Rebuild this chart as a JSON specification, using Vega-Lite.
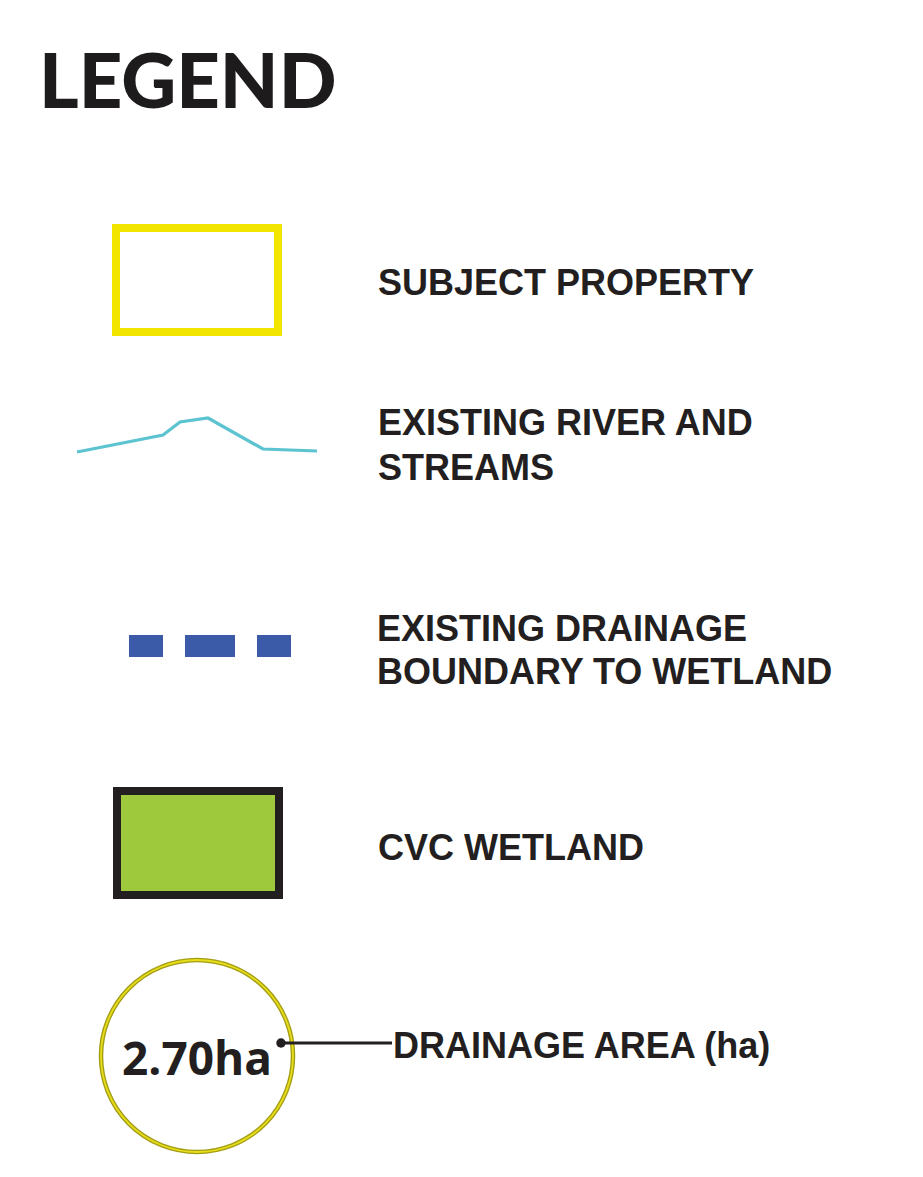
{
  "$schema": "https://vega.github.io/schema/vega-lite/v6.json",
  "width": 923,
  "height": 1177,
  "padding": 0,
  "autosize": {"type": "none"},
  "background": "#ffffff",
  "config": {"view": {"stroke": null}},
  "datasets": {
    "frames": [
      {"item": "subject", "x1": 116, "x2": 278, "y1": 228, "y2": 332},
      {"item": "wetland", "x1": 117, "x2": 279, "y1": 791, "y2": 895}
    ],
    "dashes": [
      {"x1": 129, "x2": 163, "y1": 635, "y2": 657},
      {"x1": 185, "x2": 235, "y1": 635, "y2": 657},
      {"x1": 257, "x2": 291, "y1": 635, "y2": 657}
    ],
    "river": [
      {"i": 1, "x": 77, "y": 452},
      {"i": 2, "x": 163, "y": 435},
      {"i": 3, "x": 180, "y": 422},
      {"i": 4, "x": 208, "y": 418},
      {"i": 5, "x": 263, "y": 449},
      {"i": 6, "x": 317, "y": 451}
    ],
    "area": [{"x": 197, "y": 1056, "label": "2.70ha", "ly": 1075}],
    "leader": [{"x1": 281, "x2": 392, "y": 1043}],
    "labels": [
      {"text": "SUBJECT PROPERTY", "x": 378, "y": 295},
      {"text": "EXISTING RIVER AND", "x": 378, "y": 435},
      {"text": "STREAMS", "x": 378, "y": 480},
      {"text": "EXISTING DRAINAGE", "x": 377, "y": 641},
      {"text": "BOUNDARY TO WETLAND", "x": 377, "y": 684},
      {"text": "CVC WETLAND", "x": 378, "y": 860},
      {"text": "DRAINAGE AREA (ha)", "x": 393, "y": 1058}
    ],
    "title": [{"text": "LEGEND", "x": 39, "y": 108}]
  },
  "layer": [
    {
      "data": {"name": "frames"},
      "transform": [{"filter": "datum.item === 'subject'"}],
      "mark": {"type": "rect", "fillOpacity": 0, "stroke": "#F2E600", "strokeWidth": 8},
      "encoding": {
        "x": {"field": "x1", "type": "quantitative", "scale": {"domain": [0, 923], "nice": false, "zero": false}, "axis": null},
        "x2": {"field": "x2"},
        "y": {"field": "y1", "type": "quantitative", "scale": {"domain": [0, 1177], "nice": false, "zero": false, "reverse": true}, "axis": null},
        "y2": {"field": "y2"}
      }
    },
    {
      "data": {"name": "frames"},
      "transform": [{"filter": "datum.item === 'wetland'"}],
      "mark": {"type": "rect", "fill": "#9FC93C", "stroke": "#231F20", "strokeWidth": 8},
      "encoding": {
        "x": {"field": "x1", "type": "quantitative", "axis": null},
        "x2": {"field": "x2"},
        "y": {"field": "y1", "type": "quantitative", "axis": null},
        "y2": {"field": "y2"}
      }
    },
    {
      "data": {"name": "dashes"},
      "mark": {"type": "rect", "fill": "#3B5BA9"},
      "encoding": {
        "x": {"field": "x1", "type": "quantitative", "axis": null},
        "x2": {"field": "x2"},
        "y": {"field": "y1", "type": "quantitative", "axis": null},
        "y2": {"field": "y2"}
      }
    },
    {
      "data": {"name": "river"},
      "mark": {"type": "line", "color": "#5CC3D0", "strokeWidth": 3.2},
      "encoding": {
        "x": {"field": "x", "type": "quantitative", "axis": null},
        "y": {"field": "y", "type": "quantitative", "axis": null},
        "order": {"field": "i"}
      }
    },
    {
      "data": {"name": "area"},
      "mark": {"type": "point", "shape": "circle", "size": 36864, "filled": false, "stroke": "#A39D14", "strokeWidth": 4.5, "opacity": 1},
      "encoding": {
        "x": {"field": "x", "type": "quantitative", "axis": null},
        "y": {"field": "y", "type": "quantitative", "axis": null}
      }
    },
    {
      "data": {"name": "area"},
      "mark": {"type": "point", "shape": "circle", "size": 36864, "filled": false, "stroke": "#E6DD1C", "strokeWidth": 1.8, "opacity": 1},
      "encoding": {
        "x": {"field": "x", "type": "quantitative", "axis": null},
        "y": {"field": "y", "type": "quantitative", "axis": null}
      }
    },
    {
      "data": {"name": "leader"},
      "mark": {"type": "rule", "color": "#231F20", "strokeWidth": 3},
      "encoding": {
        "x": {"field": "x1", "type": "quantitative", "axis": null},
        "x2": {"field": "x2"},
        "y": {"field": "y", "type": "quantitative", "axis": null}
      }
    },
    {
      "data": {"name": "leader"},
      "mark": {"type": "point", "shape": "circle", "filled": true, "size": 90, "color": "#231F20", "opacity": 1},
      "encoding": {
        "x": {"field": "x1", "type": "quantitative", "axis": null},
        "y": {"field": "y", "type": "quantitative", "axis": null}
      }
    },
    {
      "data": {"name": "area"},
      "mark": {"type": "text", "font": "Open Sans", "fontWeight": "bold", "fontSize": 46, "color": "#231F20", "align": "center", "baseline": "alphabetic"},
      "encoding": {
        "x": {"field": "x", "type": "quantitative", "axis": null},
        "y": {"field": "ly", "type": "quantitative", "axis": null},
        "text": {"field": "label"}
      }
    },
    {
      "data": {"name": "labels"},
      "mark": {"type": "text", "font": "Liberation Sans", "fontWeight": "bold", "fontSize": 36, "color": "#231F20", "align": "left", "baseline": "alphabetic"},
      "encoding": {
        "x": {"field": "x", "type": "quantitative", "axis": null},
        "y": {"field": "y", "type": "quantitative", "axis": null},
        "text": {"field": "text"}
      }
    },
    {
      "data": {"name": "title"},
      "mark": {"type": "text", "font": "Lato", "fontWeight": 900, "fontSize": 76, "color": "#1E1B1C", "align": "left", "baseline": "alphabetic"},
      "encoding": {
        "x": {"field": "x", "type": "quantitative", "axis": null},
        "y": {"field": "y", "type": "quantitative", "axis": null},
        "text": {"field": "text"}
      }
    }
  ]
}
